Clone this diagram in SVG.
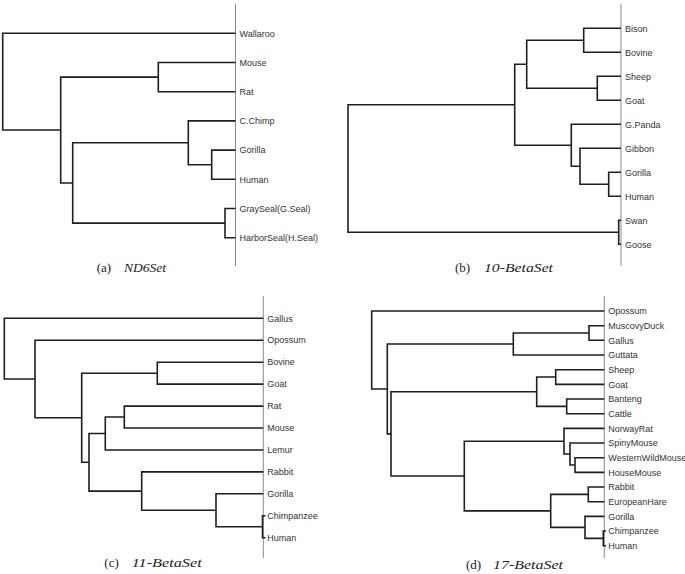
<svg xmlns="http://www.w3.org/2000/svg" width="685" height="574" viewBox="0 0 685 574">
<style>
.br{fill:none;stroke:#1e1e1e;stroke-width:1.6;stroke-linejoin:miter;stroke-linecap:butt}
.ax{fill:none;stroke:#8a8a8a;stroke-width:1}
.lb{font-family:"Liberation Sans",Arial,sans-serif;font-size:9px;fill:#333}
.cap{font-family:"Liberation Serif","Times New Roman",serif;font-size:13px;fill:#222}
.it{font-style:italic}
</style>
<rect width="685" height="574" fill="#fff"/>

<!-- Panel (a) -->
<g id="panel-a">
  <line class="ax" x1="235.5" y1="4" x2="235.5" y2="266"/>
  <g id="a-connectors">
    <path class="br" d="M235.5 62.5 H158.3 V91.7 H235.5"/>
    <path class="br" d="M235.5 150.1 H211.7 V179.3 H235.5"/>
    <path class="br" d="M235.5 120.9 H188.3 V164.7 H211.7"/>
    <path class="br" d="M235.5 208.5 H225 V237.7 H235.5"/>
    <path class="br" d="M188.3 142.8 H72.7 V223.1 H225"/>
    <path class="br" d="M158.3 77.1 H60.7 V183 H72.7"/>
    <path class="br" d="M235.5 33.3 H2.7 V130 H60.7"/>
  </g>
  <g id="a-wallaroo"><text class="lb" x="239.5" y="36.5">Wallaroo</text></g>
  <g id="a-mouse"><text class="lb" x="239.5" y="65.7">Mouse</text></g>
  <g id="a-rat"><text class="lb" x="239.5" y="94.9">Rat</text></g>
  <g id="a-cchimp"><text class="lb" x="239.5" y="124.1">C.Chimp</text></g>
  <g id="a-gorilla"><text class="lb" x="239.5" y="153.3">Gorilla</text></g>
  <g id="a-human"><text class="lb" x="239.5" y="182.5">Human</text></g>
  <g id="a-grayseal"><text class="lb" x="239.5" y="211.7">GraySeal(G.Seal)</text></g>
  <g id="a-harborseal"><text class="lb" x="239.5" y="240.9">HarborSeal(H.Seal)</text></g>
  <text class="cap" x="96.7" y="272">(a)</text>
  <text class="cap it" x="124" y="272" textLength="42" lengthAdjust="spacingAndGlyphs">ND6Set</text>
</g>

<!-- Panel (b) -->
<g id="panel-b">
  <line class="ax" x1="621" y1="4" x2="621" y2="266"/>
  <g id="b-connectors">
    <path class="br" d="M621 28.3 H583.7 V52.3 H621"/>
    <path class="br" d="M621 76.3 H597.3 V100.3 H621"/>
    <path class="br" d="M583.7 40.3 H526.7 V88.3 H597.3"/>
    <path class="br" d="M621 172.3 H608.7 V196.3 H621"/>
    <path class="br" d="M621 148.3 H580 V184.3 H608.7"/>
    <path class="br" d="M621 124.3 H571.3 V166.3 H580"/>
    <path class="br" d="M526.7 64.3 H514.7 V145.3 H571.3"/>
    <path class="br" d="M621 220.3 H618.7 V244.3 H621"/>
    <path class="br" d="M514.7 104.8 H348 V232.3 H618.7"/>
  </g>
  <g id="b-bison"><text class="lb" x="625" y="31.5">Bison</text></g>
  <g id="b-bovine"><text class="lb" x="625" y="55.5">Bovine</text></g>
  <g id="b-sheep"><text class="lb" x="625" y="79.5">Sheep</text></g>
  <g id="b-goat"><text class="lb" x="625" y="103.5">Goat</text></g>
  <g id="b-gpanda"><text class="lb" x="625" y="127.5">G.Panda</text></g>
  <g id="b-gibbon"><text class="lb" x="625" y="151.5">Gibbon</text></g>
  <g id="b-gorilla"><text class="lb" x="625" y="175.5">Gorilla</text></g>
  <g id="b-human"><text class="lb" x="625" y="199.5">Human</text></g>
  <g id="b-swan"><text class="lb" x="625" y="223.5">Swan</text></g>
  <g id="b-goose"><text class="lb" x="625" y="247.5">Goose</text></g>
  <text class="cap" x="455" y="272">(b)</text>
  <text class="cap it" x="484" y="272" textLength="69" lengthAdjust="spacingAndGlyphs">10-BetaSet</text>
</g>

<!-- Panel (c) -->
<g id="panel-c">
  <line class="ax" x1="263.3" y1="296" x2="263.3" y2="558"/>
  <g id="c-connectors">
    <path class="br" d="M263.3 362.2 H157.3 V384.1 H263.3"/>
    <path class="br" d="M263.3 406.1 H124.3 V428 H263.3"/>
    <path class="br" d="M124.3 417 H105.3 V450 H263.3"/>
    <path class="br" d="M265.5 515.8 H262.5 V537.7 H265.5"/>
    <path class="br" d="M263.3 493.8 H216 V526.8 H262.5"/>
    <path class="br" d="M263.3 471.9 H141.7 V510.3 H216"/>
    <path class="br" d="M105.3 433.5 H89 V491.1 H141.7"/>
    <path class="br" d="M157.3 373.2 H81.7 V462.3 H89"/>
    <path class="br" d="M263.3 340.2 H35 V417.8 H81.7"/>
    <path class="br" d="M263.3 318.3 H4.3 V379 H35"/>
  </g>
  <g id="c-gallus"><text class="lb" x="267.3" y="321.5">Gallus</text></g>
  <g id="c-opossum"><text class="lb" x="267.3" y="343.4">Opossum</text></g>
  <g id="c-bovine"><text class="lb" x="267.3" y="365.4">Bovine</text></g>
  <g id="c-goat"><text class="lb" x="267.3" y="387.3">Goat</text></g>
  <g id="c-rat"><text class="lb" x="267.3" y="409.3">Rat</text></g>
  <g id="c-mouse"><text class="lb" x="267.3" y="431.2">Mouse</text></g>
  <g id="c-lemur"><text class="lb" x="267.3" y="453.2">Lemur</text></g>
  <g id="c-rabbit"><text class="lb" x="267.3" y="475.1">Rabbit</text></g>
  <g id="c-gorilla"><text class="lb" x="267.3" y="497">Gorilla</text></g>
  <g id="c-chimpanzee"><text class="lb" x="267.3" y="519">Chimpanzee</text></g>
  <g id="c-human"><text class="lb" x="267.3" y="540.9">Human</text></g>
  <text class="cap" x="104.3" y="566.5">(c)</text>
  <text class="cap it" x="131.7" y="566.5" textLength="70" lengthAdjust="spacingAndGlyphs">11-BetaSet</text>
</g>

<!-- Panel (d) -->
<g id="panel-d">
  <line class="ax" x1="604.3" y1="296" x2="604.3" y2="558"/>
  <g id="d-connectors">
    <path class="br" d="M604.3 325.7 H589 V340.3 H604.3"/>
    <path class="br" d="M589 333 H513.3 V355 H604.3"/>
    <path class="br" d="M604.3 369.7 H555.7 V384.4 H604.3"/>
    <path class="br" d="M604.3 399 H566.7 V413.7 H604.3"/>
    <path class="br" d="M555.7 377 H536.7 V406.4 H566.7"/>
    <path class="br" d="M604.3 457.7 H575 V472.4 H604.3"/>
    <path class="br" d="M604.3 443 H570 V465 H575"/>
    <path class="br" d="M604.3 428.4 H564 V454 H570"/>
    <path class="br" d="M604.3 487 H588.3 V501.7 H604.3"/>
    <path class="br" d="M606 531 H603.3 V545.7 H606"/>
    <path class="br" d="M604.3 516.4 H585 V538.4 H603.3"/>
    <path class="br" d="M588.3 494.4 H550.7 V527.4 H585"/>
    <path class="br" d="M564 441.2 H464.3 V510.9 H550.7"/>
    <path class="br" d="M536.7 391.7 H391 V476 H464.3"/>
    <path class="br" d="M513.3 344 H387.3 V433.9 H391"/>
    <path class="br" d="M604.3 311 H371.7 V389 H387.3"/>
  </g>
  <g id="d-opossum"><text class="lb" x="608.3" y="314.2">Opossum</text></g>
  <g id="d-muscovyduck"><text class="lb" x="608.3" y="328.9">MuscovyDuck</text></g>
  <g id="d-gallus"><text class="lb" x="608.3" y="343.5">Gallus</text></g>
  <g id="d-guttata"><text class="lb" x="608.3" y="358.2">Guttata</text></g>
  <g id="d-sheep"><text class="lb" x="608.3" y="372.9">Sheep</text></g>
  <g id="d-goat"><text class="lb" x="608.3" y="387.6">Goat</text></g>
  <g id="d-banteng"><text class="lb" x="608.3" y="402.2">Banteng</text></g>
  <g id="d-cattle"><text class="lb" x="608.3" y="416.9">Cattle</text></g>
  <g id="d-norwayrat"><text class="lb" x="608.3" y="431.6">NorwayRat</text></g>
  <g id="d-spinymouse"><text class="lb" x="608.3" y="446.2">SpinyMouse</text></g>
  <g id="d-westernwildmouse"><text class="lb" x="608.3" y="460.9">WesternWildMouse</text></g>
  <g id="d-housemouse"><text class="lb" x="608.3" y="475.6">HouseMouse</text></g>
  <g id="d-rabbit"><text class="lb" x="608.3" y="490.2">Rabbit</text></g>
  <g id="d-europeanhare"><text class="lb" x="608.3" y="504.9">EuropeanHare</text></g>
  <g id="d-gorilla"><text class="lb" x="608.3" y="519.6">Gorilla</text></g>
  <g id="d-chimpanzee"><text class="lb" x="608.3" y="534.2">Chimpanzee</text></g>
  <g id="d-human"><text class="lb" x="608.3" y="548.9">Human</text></g>
  <text class="cap" x="466" y="568.5">(d)</text>
  <text class="cap it" x="493" y="568.5" textLength="70" lengthAdjust="spacingAndGlyphs">17-BetaSet</text>
</g>
</svg>
